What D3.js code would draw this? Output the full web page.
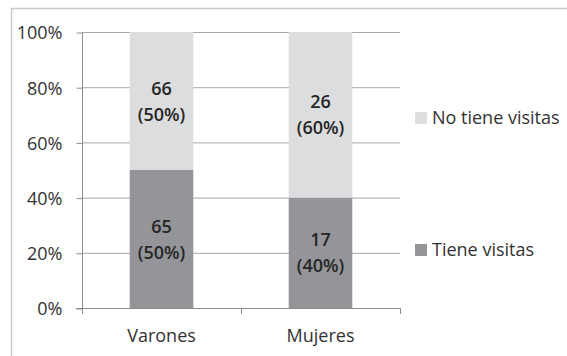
<!DOCTYPE html>
<html><head><meta charset="utf-8">
<script src="https://cdn.jsdelivr.net/npm/d3@7"></script>
<style>body{margin:0;background:#fff}svg{display:block}text{font-family:"Open Sans","Liberation Sans",sans-serif}</style>
</head><body>
<svg id="c" width="567" height="356"></svg>
<script>
const categories = ["Varones", "Mujeres"];
const seriesNames = ["Tiene visitas", "No tiene visitas"];
const tieneCounts = [65, 17];
const noTieneCounts = [66, 26];
const tienePct = [50, 40];
const noTienePct = [50, 60];
const yTicks = [0, 20, 40, 60, 80, 100];
const colors = {"Tiene visitas": "#939598", "No tiene visitas": "#dcdddf"};

const svg = d3.select("#c");
// outer border
svg.append("path").attr("d", "M11.5,356 V8.5 H567").attr("fill", "none").attr("stroke", "#c9c9c9").attr("stroke-width", 1.5);

const x0 = 82, x1 = 400, yTop = 32, yBot = 308;
const x = d3.scaleBand().domain(categories).range([x0, x1]).paddingInner(0.6).paddingOuter(0.3);
const y = d3.scaleLinear().domain([0, 100]).range([yBot, yTop]);

// gridlines
svg.append("g").selectAll("line").data(yTicks.filter(d => d > 0)).join("line")
  .attr("x1", x0).attr("x2", x1).attr("y1", d => y(d) + 0.5).attr("y2", d => y(d) + 0.5)
  .attr("stroke", "#a7a7a7").attr("stroke-width", 1);

const rows = categories.map((c, i) => ({cat: c, "Tiene visitas": tienePct[i], "No tiene visitas": noTienePct[i],
  counts: {"Tiene visitas": tieneCounts[i], "No tiene visitas": noTieneCounts[i]}}));
const stack = d3.stack().keys(seriesNames)(rows);

stack.forEach(layer => {
  svg.append("g").selectAll("rect").data(layer).join("rect")
    .attr("x", d => x(d.data.cat)).attr("width", x.bandwidth())
    .attr("y", d => y(d[1])).attr("height", d => y(d[0]) - y(d[1]))
    .attr("fill", colors[layer.key]);
  const g = svg.append("g").selectAll("text").data(layer).join("text")
    .attr("text-anchor", "middle").attr("font-weight", 600).attr("font-size", 18).attr("fill", "#262626")
    .attr("x", d => x(d.data.cat) + x.bandwidth() / 2)
    .attr("y", d => (y(d[0]) + y(d[1])) / 2);
  g.append("tspan").attr("x", d => x(d.data.cat) + x.bandwidth() / 2).attr("dy", -6.5)
    .text(d => d.data.counts[layer.key]);
  g.append("tspan").attr("x", d => x(d.data.cat) + x.bandwidth() / 2).attr("dy", 26)
    .text(d => "(" + (d[1] - d[0]) + "%)");
});

// y axis
const yAxis = d3.axisLeft(y).tickValues(yTicks).tickFormat(d => d + "%").tickSize(6).tickPadding(14);
const ya = svg.append("g").attr("transform", `translate(${x0 + 0.5},0.5)`).call(yAxis);
ya.select(".domain").attr("stroke", "#8c8c8c").attr("d", `M0,${yTop}V${yBot}`);
ya.selectAll(".tick line").attr("stroke", "#8c8c8c");
ya.selectAll(".tick text").attr("font-size", 18).attr("fill", "#333").attr("dy", "0.35em");

// x axis
svg.append("line").attr("x1", x0 - 6).attr("x2", x1).attr("y1", yBot + 0.5).attr("y2", yBot + 0.5).attr("stroke", "#8c8c8c");
const xTickPos = [x0, (x0 + x1) / 2, x1];
svg.append("g").selectAll("line").data(xTickPos).join("line")
  .attr("x1", d => d + 0.5).attr("x2", d => d + 0.5).attr("y1", yBot).attr("y2", yBot + 6).attr("stroke", "#8c8c8c");
svg.append("g").selectAll("text").data(categories).join("text")
  .attr("x", d => x(d) + x.bandwidth() / 2).attr("y", 342).attr("text-anchor", "middle")
  .attr("font-size", 18).attr("fill", "#333").text(d => d);

// legend
const legendItems = [{k: "No tiene visitas", yc: 118}, {k: "Tiene visitas", yc: 250}];
const lg = svg.append("g").selectAll("g").data(legendItems).join("g");
lg.append("rect").attr("x", 415).attr("y", d => d.yc - 6).attr("width", 12).attr("height", 12).attr("fill", d => colors[d.k]);
lg.append("text").attr("x", 432).attr("y", d => d.yc).attr("dy", "0.35em").attr("font-size", 18).attr("fill", "#333").text(d => d.k);
</script>
</body></html>
